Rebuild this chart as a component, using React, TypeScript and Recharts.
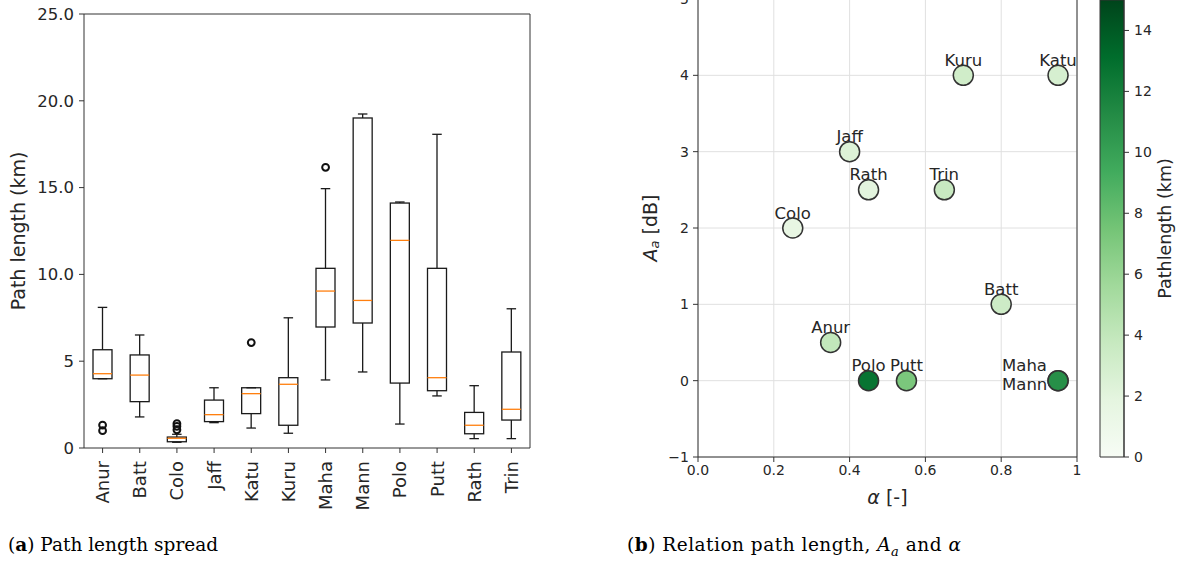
import React from 'react';
import {
  ComposedChart, ScatterChart, BarChart, Bar, Scatter, XAxis, YAxis, CartesianGrid,
} from 'recharts';

// ---- (a) path length spread per site ----
const sites = ['Anur', 'Batt', 'Colo', 'Jaff', 'Katu', 'Kuru', 'Maha', 'Mann', 'Polo', 'Putt', 'Rath', 'Trin'];
const whiskerLow = [3.99, 1.79, 0.33, 1.46, 1.15, 0.85, 3.92, 4.38, 1.38, 3.0, 0.54, 0.54];
const q1 = [3.99, 2.67, 0.36, 1.52, 1.98, 1.31, 6.97, 7.2, 3.74, 3.3, 0.82, 1.61];
const median = [4.28, 4.2, 0.56, 1.92, 3.13, 3.67, 9.04, 8.5, 11.96, 4.05, 1.31, 2.23];
const q3 = [5.66, 5.36, 0.63, 2.76, 3.47, 4.05, 10.35, 19.01, 14.11, 10.35, 2.05, 5.53];
const whiskerHigh = [8.1, 6.51, 0.79, 3.47, 3.47, 7.5, 14.94, 19.24, 14.17, 18.07, 3.59, 8.02];
const outlierSite = ['Anur', 'Anur', 'Colo', 'Colo', 'Colo', 'Katu', 'Maha'];
const outlierValue = [1.32, 1.0, 1.05, 1.25, 1.4, 6.07, 16.17];
const lengthTicks = [0, 5, 10, 15, 20, 25];
const lengthTickLabels = ['0', '5', '10.0', '15.0', '20.0', '25.0'];

// ---- (b) alpha vs A_a, coloured by path length ----
const alpha = [0.35, 0.8, 0.25, 0.4, 0.95, 0.7, 0.95, 0.95, 0.45, 0.55, 0.45, 0.65];
const attenuation = [0.5, 1, 2, 3, 4, 4, 0, 0, 0, 0, 2.5, 2.5];
const pathLength = [4.0, 3.4, 1.6, 2.4, 2.8, 3.2, 11.0, 11.0, 12.7, 7.2, 2.0, 3.7];
const alphaTicks = [0, 0.2, 0.4, 0.6, 0.8, 1];
const alphaTickLabels = ['0.0', '0.2', '0.4', '0.6', '0.8', '1'];
const attTicks = [-1, 0, 1, 2, 3, 4, 5];
const attTickLabels = ['\u22121', '0', '1', '2', '3', '4', '5'];
const colorMax = 15;
const colorTicks = [0, 2, 4, 6, 8, 10, 12, 14];

const greensStops = ['#f7fcf5', '#e5f5e0', '#c7e9c0', '#a1d99b', '#74c476', '#41ab5d', '#238b45', '#006d2c', '#00441b'];

const FONT = 'DejaVu Sans, sans-serif';
const INK = '#262626';
const SPINE = '#333';

const hexToRgb = (h: string) => [1, 3, 5].map(i => parseInt(h.slice(i, i + 2), 16));
function greens(t: number) {
  const c = Math.max(0, Math.min(1, t)) * (greensStops.length - 1);
  const i = Math.min(Math.floor(c), greensStops.length - 2);
  const f = c - i;
  const a = hexToRgb(greensStops[i]);
  const b = hexToRgb(greensStops[i + 1]);
  return `rgb(${a.map((v, k) => Math.round(v + (b[k] - v) * f)).join(',')})`;
}

const boxData = sites.map((name, i) => ({
  name,
  range: [whiskerLow[i], whiskerHigh[i]],
  lo: whiskerLow[i], q1: q1[i], med: median[i], q3: q3[i], hi: whiskerHigh[i],
}));
const outliers = outlierSite.map((name, i) => ({ name, v: outlierValue[i] }));
const points = sites.map((name, i) => ({ name, a: alpha[i], att: attenuation[i], len: pathLength[i] }));

// top / right frame lines of a plot area
const topEdge = ({ offset }: any) => [offset.top];
const rightEdge = ({ offset }: any) => [offset.left + offset.width];

// whisker-to-whisker bar, box + median drawn inside using the bar's own pixel scale
const BoxShape = (props: any) => {
  const { x, y, width, height, payload } = props;
  const top = Math.min(y, y + height);
  const k = Math.abs(height) / (payload.hi - payload.lo);
  const py = (v: number) => top + (payload.hi - v) * k;
  const cx = x + width / 2;
  const cap = width / 4;
  return (
    <g stroke="#1a1a1a" strokeWidth={1.3} fill="none">
      <line x1={cx} x2={cx} y1={py(payload.hi)} y2={py(payload.q3)} />
      <line x1={cx} x2={cx} y1={py(payload.q1)} y2={py(payload.lo)} />
      <line x1={cx - cap} x2={cx + cap} y1={py(payload.hi)} y2={py(payload.hi)} />
      <line x1={cx - cap} x2={cx + cap} y1={py(payload.lo)} y2={py(payload.lo)} />
      <rect x={x} y={py(payload.q3)} width={width} height={py(payload.q1) - py(payload.q3)} />
      <line x1={x} x2={x + width} y1={py(payload.med)} y2={py(payload.med)} stroke="#ff7f0e" />
    </g>
  );
};

const Flier = ({ cx, cy }: any) => (
  <circle cx={cx} cy={cy} r={3.4} fill="none" stroke="#111" strokeWidth={2} />
);

const SiteTick = ({ x, y, payload }: any) => (
  <text x={x} y={y} transform={`rotate(-90, ${x}, ${y})`} textAnchor="end" dominantBaseline="central"
    fontSize={18} fontFamily={FONT} fill={INK}>{payload.value}</text>
);

const SitePoint = (props: any) => {
  const { cx, cy, payload } = props;
  const group = points.filter(p => p.a === payload.a && p.att === payload.att);
  let label: React.ReactNode = null;
  if (group.length > 1) {
    if (group[0].name === payload.name) {
      label = (
        <text fontSize={16.5} fontFamily={FONT} fill={INK}>
          {group.map((p, i) => (
            <tspan key={p.name} x={cx - 56} y={cy - 9.5 + i * 18.5}>{p.name}</tspan>
          ))}
        </text>
      );
    }
  } else {
    label = (
      <text x={cx} y={cy - 9.5} textAnchor="middle" fontSize={16.5} fontFamily={FONT} fill={INK}>{payload.name}</text>
    );
  }
  return (
    <g>
      {label}
      <circle cx={cx} cy={cy} r={10} fill={greens(payload.len / colorMax)} stroke="#333" strokeWidth={1.5} />
    </g>
  );
};

const tickStyle = (size: number) => ({ fontSize: size, fontFamily: FONT, fill: INK });

export default function App() {
  return (
    <div style={{ position: 'absolute', left: 0, top: 0, width: 1180, height: 568, overflow: 'hidden', background: '#fff' }}>
      {/* (a) box plot */}
      <div style={{ position: 'absolute', left: 0, top: 0 }}>
        <ComposedChart width={560} height={540} data={boxData} margin={{ top: 14, right: 30, bottom: 0, left: 0 }}>
          <CartesianGrid stroke={SPINE} strokeWidth={1}
            horizontalCoordinatesGenerator={topEdge} verticalCoordinatesGenerator={rightEdge} />
          <XAxis dataKey="name" type="category" allowDuplicatedCategory={false} height={92} interval={0}
            tickSize={5} tickMargin={8} tick={<SiteTick />} axisLine={{ stroke: SPINE }} tickLine={{ stroke: SPINE }} />
          <YAxis type="number" domain={[0, 25]} ticks={lengthTicks} interval={0} width={84}
            tickFormatter={(v: number) => lengthTickLabels[lengthTicks.indexOf(v)]}
            tickSize={5} tickMargin={5} tick={tickStyle(16.5)} axisLine={{ stroke: SPINE }} tickLine={{ stroke: SPINE }}
            label={{
              value: 'Path length (km)',
              content: ({ viewBox }: any) => {
                const x = viewBox.x + 18;
                const y = viewBox.y + viewBox.height / 2;
                return (
                  <text x={x} y={y} transform={`rotate(-90, ${x}, ${y})`} textAnchor="middle" dominantBaseline="central"
                    fontSize={19} fontFamily={FONT} fill={INK}>Path length (km)</text>
                );
              },
            }} />
          <Bar dataKey="range" barSize={19} shape={<BoxShape />} isAnimationActive={false} />
          <Scatter data={outliers} dataKey="v" shape={<Flier />} isAnimationActive={false} />
        </ComposedChart>
      </div>

      {/* (b) scatter */}
      <div style={{ position: 'absolute', left: 620, top: -20 }}>
        <ScatterChart width={467} height={537} margin={{ top: 19, right: 10, bottom: 0, left: 0 }}>
          <CartesianGrid stroke="#e0e0e0" strokeWidth={1} />
          <CartesianGrid stroke={SPINE} strokeWidth={1} horizontal={false} verticalCoordinatesGenerator={rightEdge} />
          <XAxis type="number" dataKey="a" domain={[0, 1]} ticks={alphaTicks} interval={0} height={60}
            tickFormatter={(v: number) => alphaTickLabels[alphaTicks.indexOf(v)]}
            tickSize={5} tickMargin={3} tick={tickStyle(14)} axisLine={{ stroke: SPINE }} tickLine={{ stroke: SPINE }}
            label={{
              value: 'alpha',
              content: ({ viewBox }: any) => (
                <text x={viewBox.x + viewBox.width / 2} y={viewBox.y + 40} textAnchor="middle" dominantBaseline="central"
                  fontSize={19} fontFamily={FONT} fill={INK}>
                  <tspan fontStyle="italic">α</tspan> [-]
                </text>
              ),
            }} />
          <YAxis type="number" dataKey="att" domain={[-1, 5]} ticks={attTicks} interval={0} width={78}
            tickFormatter={(v: number) => attTickLabels[attTicks.indexOf(v)]}
            tickSize={5} tickMargin={4} tick={tickStyle(14)} axisLine={{ stroke: SPINE }} tickLine={{ stroke: SPINE }}
            label={{
              value: 'A_a',
              content: ({ viewBox }: any) => {
                const x = viewBox.x + 30;
                const y = viewBox.y + viewBox.height / 2;
                return (
                  <text x={x} y={y} transform={`rotate(-90, ${x}, ${y})`} textAnchor="middle" dominantBaseline="central"
                    fontSize={19} fontFamily={FONT} fill={INK}>
                    <tspan fontStyle="italic">A</tspan>
                    <tspan fontStyle="italic" fontSize={13} dy={4}>a</tspan>
                    <tspan dy={-4}> [dB]</tspan>
                  </text>
                );
              },
            }} />
          <Scatter data={points} shape={<SitePoint />} isAnimationActive={false} />
        </ScatterChart>
      </div>

      {/* colour bar */}
      <div style={{ position: 'absolute', left: 1080, top: -10 }}>
        <BarChart width={120} height={477} data={[{ name: 'cb', v: colorMax }]} barCategoryGap={0}
          margin={{ top: 10, right: 0, bottom: 10, left: 20 }}>
          <defs>
            <linearGradient id="pathlenGradient" x1="0" y1="1" x2="0" y2="0">
              {greensStops.map((c, i) => (
                <stop key={c} offset={i / (greensStops.length - 1)} stopColor={c} />
              ))}
            </linearGradient>
          </defs>
          <XAxis dataKey="name" hide />
          <YAxis orientation="right" type="number" domain={[0, colorMax]} ticks={colorTicks} interval={0} width={76}
            tickSize={5} tickMargin={5} tick={tickStyle(14)} axisLine={{ stroke: SPINE }} tickLine={{ stroke: SPINE }}
            label={{
              value: 'Pathlength (km)',
              content: ({ viewBox }: any) => {
                const x = viewBox.x + 41;
                const y = viewBox.y + viewBox.height / 2;
                return (
                  <text x={x} y={y} transform={`rotate(-90, ${x}, ${y})`} textAnchor="middle" dominantBaseline="central"
                    fontSize={17.5} fontFamily={FONT} fill={INK}>Pathlength (km)</text>
                );
              },
            }} />
          <Bar dataKey="v" fill="url(#pathlenGradient)" stroke={SPINE} strokeWidth={1} isAnimationActive={false} />
        </BarChart>
      </div>

      {/* sub-figure captions */}
      <div style={{ position: 'absolute', left: 8, top: 534, fontFamily: 'DejaVu Serif, serif', fontSize: 18.5, color: '#000', whiteSpace: 'nowrap' }}>
        (<b>a</b>) Path length spread
      </div>
      <div style={{ position: 'absolute', left: 627, top: 534, fontFamily: 'DejaVu Serif, serif', fontSize: 18.5, color: '#000', whiteSpace: 'nowrap', letterSpacing: 0.5 }}>
        (<b>b</b>) Relation path length, <i>A<sub style={{ fontSize: 13 }}>a</sub></i> and <i>α</i>
      </div>
    </div>
  );
}
